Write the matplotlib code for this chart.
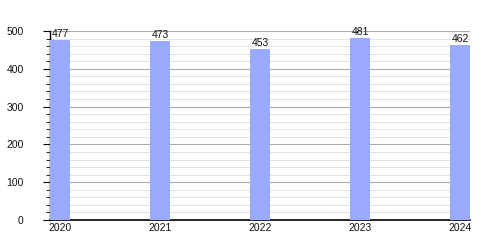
import matplotlib.pyplot as plt
from matplotlib.ticker import MultipleLocator

plt.rcParams["font.family"] = ["Liberation Sans", "DejaVu Sans"]

years = ["2020", "2021", "2022", "2023", "2024"]
values = [477, 473, 453, 481, 462]

fig = plt.figure(figsize=(5, 2.5), dpi=100)
ax = fig.add_axes([0.1, 0.12, 0.84, 0.756])

pos = list(range(len(years)))
bars = ax.bar(pos, values, width=0.2, align="edge", color="#9aabff", zorder=3)
for b, v in zip(bars, values):
    ax.text(b.get_x() + b.get_width() / 2, v + 3, str(v), ha="center", va="bottom",
            fontsize=7.5, color="#111111", zorder=4)

ax.set_xlim(0, 4.2)
ax.set_ylim(0, 500)
ax.set_xticks([p + 0.1 for p in pos])
ax.set_xticklabels(years)
ax.yaxis.set_major_locator(MultipleLocator(100))
ax.yaxis.set_minor_locator(MultipleLocator(20))

ax.grid(axis="y", which="major", color="#aaaaaa", linewidth=0.8, zorder=1)
ax.grid(axis="y", which="minor", color="#e2e2e2", linewidth=0.7, zorder=0)

for s in ["top", "right"]:
    ax.spines[s].set_visible(False)
ax.spines["left"].set_linewidth(1.0)
ax.spines["bottom"].set_linewidth(1.2)

ax.tick_params(axis="x", length=0, labelsize=7.5, pad=2, labelcolor="#111111")
ax.tick_params(axis="y", which="major", length=5, labelsize=7.5, pad=14, labelcolor="#111111")
ax.tick_params(axis="y", which="minor", length=3)

fig.savefig("out.png", dpi=100)
